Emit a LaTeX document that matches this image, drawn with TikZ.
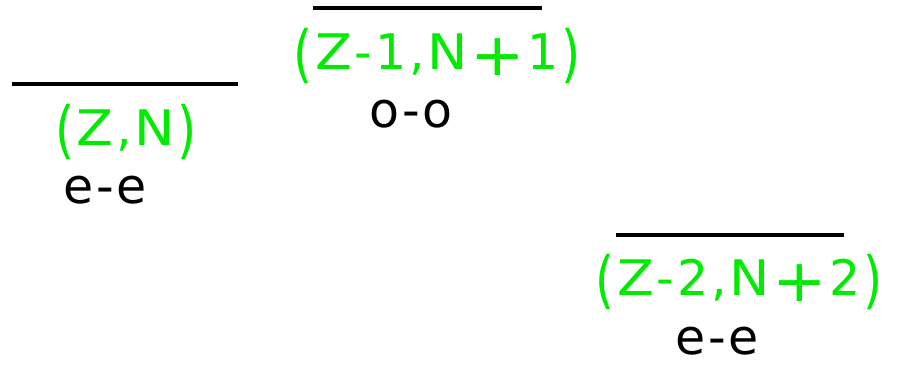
\documentclass[tikz,border=0pt]{standalone}
\usepackage{graphicx}
\usepackage{fontspec}
\setmainfont{DejaVu Sans}
\definecolor{lvgreen}{RGB}{0,235,0}
\newcommand\Gp{\kern2.7pt}
\newcommand\Lpar{\raisebox{-6.5pt}{\scalebox{1.0}[1.27]{(}}}
\newcommand\Rpar{\raisebox{-6.5pt}{\scalebox{1.0}[1.27]{)}}}
\newcommand\Plusg{\raisebox{-6pt}{\scalebox{1.33}[1.2]{+}}}
\newcommand\Zg{\scalebox{1.1}[1]{Z}}
\newcommand\Ng{\scalebox{1.1}[1]{N}}
\begin{document}
\begin{tikzpicture}[x=1pt,y=-1pt,
  lvl/.style={line width=3.5pt},
  iso/.style={text=lvgreen,font=\fontsize{49}{52}\selectfont,inner sep=0,anchor=base},
  par/.style={text=black,font=\fontsize{49}{52}\selectfont,inner sep=0,anchor=base}]
\useasboundingbox (0,0) rectangle (898,370);
\coordinate (a1) at (12,84);  \coordinate (a2) at (238,84);
\coordinate (b1) at (313,8);  \coordinate (b2) at (542,8);
\coordinate (c1) at (616,235); \coordinate (c2) at (844,235);
\draw[lvl] (a1) -- (a2);
\draw[lvl] (b1) -- (b2);
\draw[lvl] (c1) -- (c2);
\node[iso] (ta) at (126,145) {\Lpar\Gp\Zg\Gp,\Gp\Ng\Gp\Rpar};
\node[par] (pa) at (105,203) {e\Gp-\Gp e};
\node[iso] (tb) at (437,69) {\Lpar\Gp\Zg\Gp-\Gp1\Gp,\Gp\Ng\Gp\Plusg\Gp1\Gp\Rpar};
\node[par] (pb) at (411,127) {o\Gp-\Gp o};
\node[iso] (tc) at (739,295) {\Lpar\Gp\Zg\Gp-\Gp2\Gp,\Gp\Ng\Gp\Plusg\Gp2\Gp\Rpar};
\node[par] (pc) at (717,354) {e\Gp-\Gp e};
\end{tikzpicture}
\end{document}
